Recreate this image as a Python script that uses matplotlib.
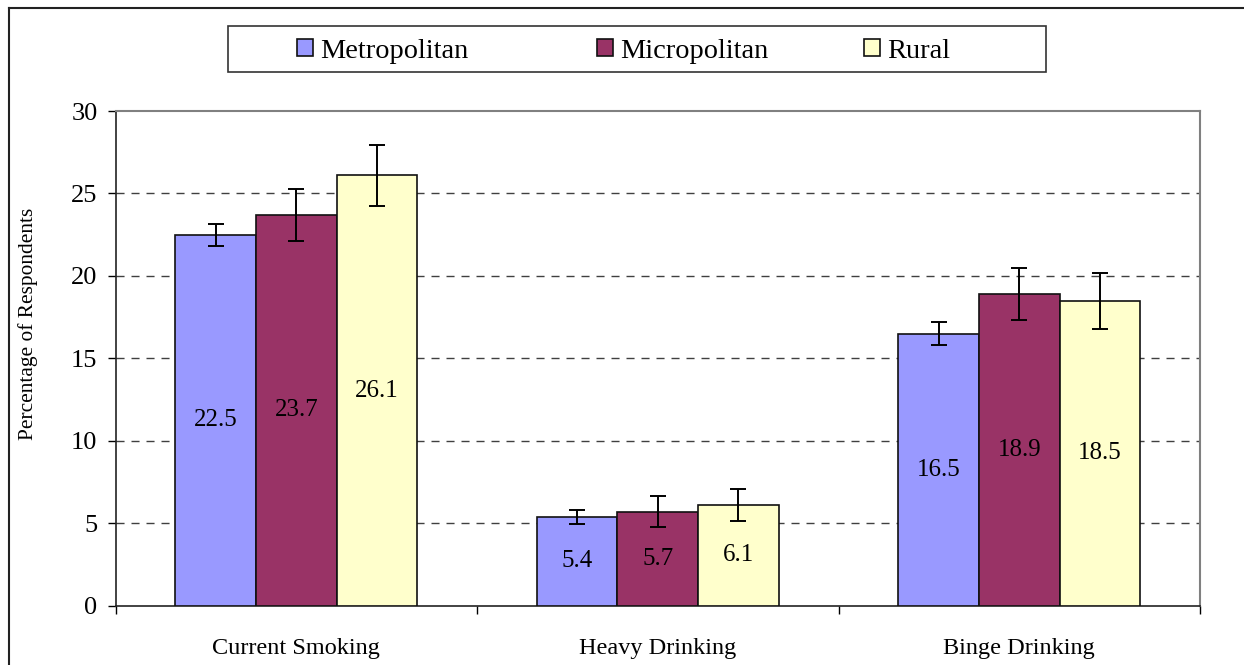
import matplotlib
matplotlib.use("Agg")
import matplotlib.pyplot as plt
import numpy as np
from matplotlib.patches import Rectangle, Patch
from matplotlib.lines import Line2D

categories = ["Current Smoking", "Heavy Drinking", "Binge Drinking"]
series_names = ["Metropolitan", "Micropolitan", "Rural"]
metropolitan = [22.5, 5.4, 16.5]
micropolitan = [23.7, 5.7, 18.9]
rural = [26.1, 6.1, 18.5]
metropolitan_err = [0.66, 0.43, 0.7]
micropolitan_err = [1.6, 0.93, 1.6]
rural_err = [1.85, 0.99, 1.7]
y_ticks = [0, 5, 10, 15, 20, 25, 30]

colors = ["#9999FF", "#993366", "#FFFFCC"]
values = [metropolitan, micropolitan, rural]
errors = [metropolitan_err, micropolitan_err, rural_err]

plt.rcParams["font.family"] = ["Liberation Serif", "DejaVu Serif"]

W, H = 1244, 665
fig = plt.figure(figsize=(W / 100, H / 100), dpi=100)
ax = fig.add_axes([115.5 / W, 1 - 605.7 / H, (1200 - 115.5) / W, (605.7 - 111) / H])

x = np.arange(len(categories))
width = 0.2227
for i, (vals, errs, col) in enumerate(zip(values, errors, colors)):
    pos = x + (i - 1) * width
    ax.bar(pos, vals, width, color=col, edgecolor="#111111", linewidth=1.2, zorder=3)
    ax.errorbar(pos, vals, yerr=errs, fmt="none", ecolor="black",
                elinewidth=1.4, capsize=5.5, capthick=1.4, zorder=4)
    for p, v in zip(pos, vals):
        ax.text(p, v / 2, f"{v:.1f}", ha="center", va="center", fontsize=18, zorder=5)

ax.set_xlim(-0.5, 2.5)
ax.set_ylim(0, 30)
ax.set_yticks(y_ticks)
ax.tick_params(axis="y", labelsize=19, length=6, width=1, pad=7, direction="out")
ax.set_xticks(x)
ax.set_xticklabels(categories)
ax.tick_params(axis="x", which="major", length=0, labelsize=17.5, pad=23)
ax.set_xticks([-0.5, 0.5, 1.5, 2.5], minor=True)
ax.tick_params(axis="x", which="minor", length=6, width=1, direction="out")

for yv in y_ticks[1:-1]:
    ax.axhline(yv, color="#404040", linewidth=1.0, linestyle=(0, (5.8, 5)), zorder=1)

for side in ["top", "right"]:
    ax.spines[side].set_color("#808080")
    ax.spines[side].set_linewidth(1.5)
for side in ["left", "bottom"]:
    ax.spines[side].set_color("#222222")
    ax.spines[side].set_linewidth(1.2)

fig.text(28 / W, 1 - 323.5 / H, "Percentage of Respondents", rotation=90,
         ha="center", va="center", fontsize=15.4)

# Legend box with one entry per series placed along it
fig.patches.append(Rectangle((228 / W, 1 - 72 / H), (1046 - 228) / W, 46 / H,
                             transform=fig.transFigure, facecolor="white",
                             edgecolor="#333333", linewidth=1.2, zorder=0))
entry_x = [297, 597, 864]
for name, col, ex in zip(series_names, colors, entry_x):
    handle = Patch(facecolor=col, edgecolor="#111111", linewidth=1.2)
    fig.legend([handle], [name], loc="center left", bbox_to_anchor=(ex / W, 1 - 51 / H),
               frameon=False, fontsize=20.4, handlelength=0.57, handleheight=0.57,
               handletextpad=0.25, borderpad=0, borderaxespad=0)

# Outer frame
fig.add_artist(Line2D([9 / W, 9 / W], [0, 1 - 7.5 / H], transform=fig.transFigure,
                      color="#222222", linewidth=1.5))
fig.add_artist(Line2D([9 / W, 1], [1 - 7.5 / H, 1 - 7.5 / H], transform=fig.transFigure,
                      color="#222222", linewidth=1.5))

fig.savefig("out.png", dpi=100)
